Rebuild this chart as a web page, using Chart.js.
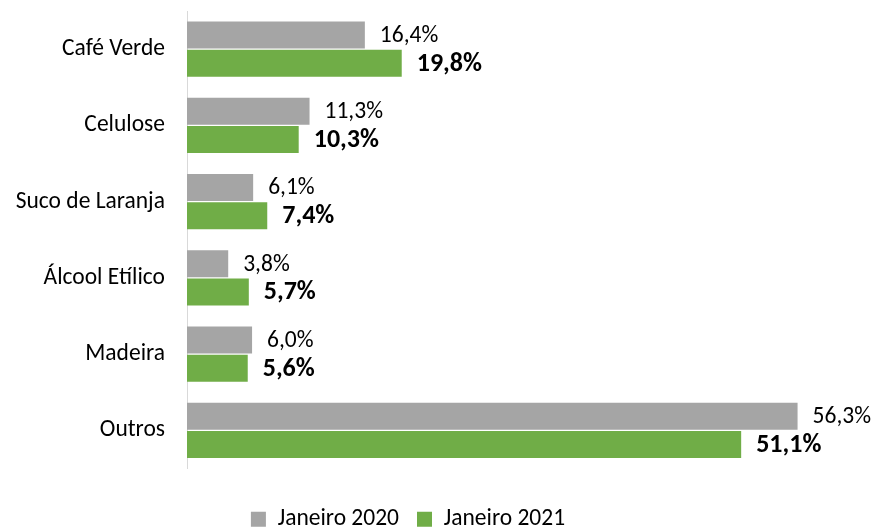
<!DOCTYPE html>
<html><head><meta charset="utf-8">
<script src="https://cdn.jsdelivr.net/npm/chart.js@4/dist/chart.umd.min.js"></script>
<style>html,body{margin:0;padding:0;background:#fff}#wrap{width:872px;height:527px}</style>
</head><body><div id="wrap"><canvas id="c" width="872" height="527"></canvas></div>
<script>
const categories = ['Café Verde','Celulose','Suco de Laranja','Álcool Etílico','Madeira','Outros'];
const jan2020 = [16.4, 11.3, 6.1, 3.8, 6.0, 56.3];
const jan2021 = [19.8, 10.3, 7.4, 5.7, 5.6, 51.1];
const seriesNames = ['Janeiro 2020','Janeiro 2021'];
const FONT = 'Carlito, Lato, "Liberation Sans", sans-serif';

const labelPlugin = {
  id: 'barLabels',
  afterDatasetsDraw(chart) {
    const ctx = chart.ctx;
    chart.data.datasets.forEach((ds, di) => {
      const meta = chart.getDatasetMeta(di);
      meta.data.forEach((el, i) => {
        const txt = ds.data[i].toFixed(1).replace('.', ',') + '%';
        ctx.save();
        ctx.fillStyle = '#000';
        ctx.font = (di === 1 ? 'bold 26px ' : '23.5px ') + FONT;
        ctx.textBaseline = 'middle';
        ctx.textAlign = 'left';
        ctx.fillText(txt, el.x + 15, el.y + 1);
        ctx.restore();
      });
    });
  }
};

new Chart(document.getElementById('c'), {
  type: 'bar',
  data: {
    labels: categories,
    datasets: [
      { label: seriesNames[0], data: jan2020, backgroundColor: '#A5A5A5', categoryPercentage: 0.74, barPercentage: 0.95 },
      { label: seriesNames[1], data: jan2021, backgroundColor: '#70AD47', categoryPercentage: 0.74, barPercentage: 0.95 }
    ]
  },
  options: {
    indexAxis: 'y',
    responsive: false,
    animation: false,
    devicePixelRatio: 1,
    layout: { padding: { top: 11, right: 56, left: 0, bottom: -14 } },
    scales: {
      x: {
        min: 0, max: 58,
        display: true,
        ticks: { display: false },
        grid: { display: false, drawTicks: false },
        border: { display: false },
        afterFit(s) { s.height = 21; }
      },
      y: {
        grid: { display: false, drawTicks: false },
        border: { display: true, color: '#D9D9D9', width: 1 },
        ticks: { color: '#000', font: { family: FONT, size: 23.5 }, padding: 22 },
        afterFit(s) { s.width = 187; s.paddingTop = 0; s.paddingBottom = 0; }
      }
    },
    plugins: {
      legend: {
        position: 'bottom',
        labels: { color: '#000', font: { family: FONT, size: 23.5 }, boxWidth: 15, boxHeight: 15, padding: 18 }
      },
      tooltip: { enabled: false }
    }
  },
  plugins: [labelPlugin]
});
</script></body></html>
